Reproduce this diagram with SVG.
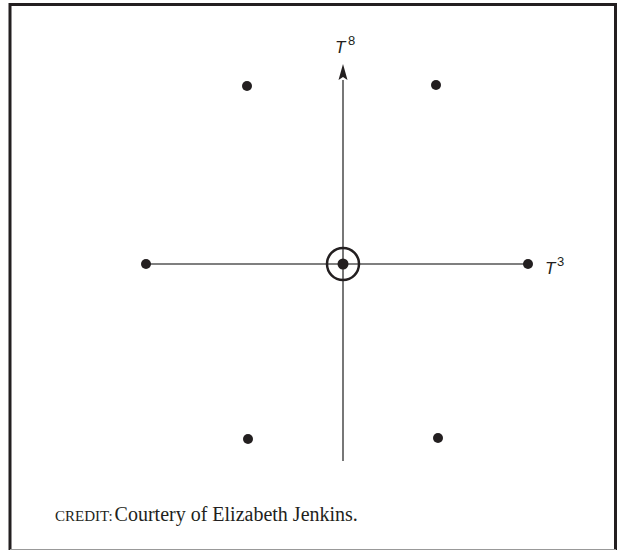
<svg xmlns="http://www.w3.org/2000/svg" width="618" height="550" viewBox="0 0 618 550">
<style>
.axis{stroke:#555;stroke-width:1.6;fill:none}
.dot{fill:#231f20}
.lbl{font-family:"Liberation Sans",Arial,sans-serif;font-style:italic;font-size:17px;fill:#231f20}
.sup{font-family:"Liberation Sans",Arial,sans-serif;font-size:13px;fill:#231f20}
.credit{font-family:"Liberation Serif","Times New Roman",serif;font-size:20px;fill:#231f20}
</style>
<rect x="0" y="0" width="618" height="550" fill="#fff"/>
<path d="M10,550 V4.5 H615.5 V550" fill="none" stroke="#231f20" stroke-width="3"/>
<line x1="10" y1="549.5" x2="616" y2="549.5" stroke="#999" stroke-width="1"/>
<g id="connectors">
<line class="axis" x1="146" y1="264" x2="528" y2="264"/>
<line class="axis" x1="343" y1="461" x2="343" y2="80"/>
<path d="M343,64 L347.5,80 L343,77 L338.5,80 Z" fill="#231f20"/>
</g>
<g id="center"><circle cx="343" cy="264" r="16" fill="none" stroke="#231f20" stroke-width="2.5"/><circle class="dot" cx="343" cy="264" r="5.5"/></g>
<g id="p1"><circle class="dot" cx="247" cy="86" r="5"/></g>
<g id="p2"><circle class="dot" cx="436" cy="85" r="5"/></g>
<g id="p3"><circle class="dot" cx="146" cy="264" r="5"/></g>
<g id="p4"><circle class="dot" cx="528" cy="264" r="5"/></g>
<g id="p5"><circle class="dot" cx="248" cy="439" r="5"/></g>
<g id="p6"><circle class="dot" cx="438" cy="438" r="5"/></g>
<g id="labelT8"><text x="335" y="53" class="lbl">T</text><text x="348" y="45" class="sup">8</text></g>
<g id="labelT3"><text x="545" y="274" class="lbl">T</text><text x="557" y="266" class="sup">3</text></g>
<text x="55" y="521" class="credit"><tspan font-size="15">CREDIT:</tspan><tspan dx="2">Courtery of Elizabeth Jenkins.</tspan></text>
</svg>
